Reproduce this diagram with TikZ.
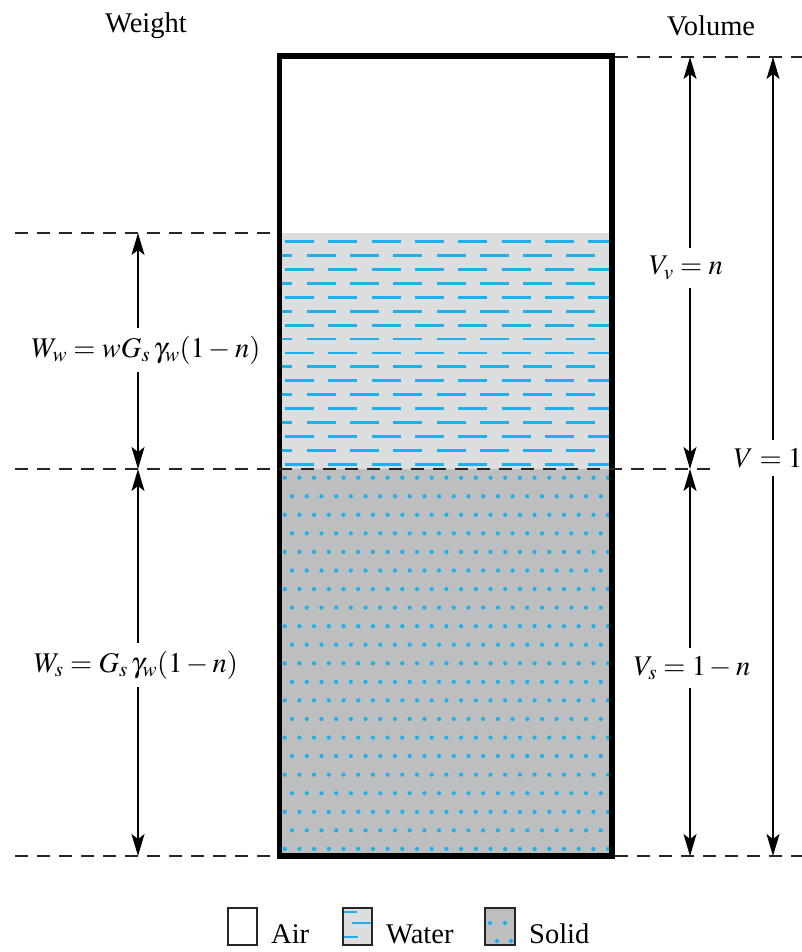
\documentclass[tikz,border=0pt]{standalone}
\usepackage{mathptmx}
\usepackage{fontspec}
\setmainfont{Liberation Serif}
\usetikzlibrary{arrows.meta}
\definecolor{cyanw}{RGB}{30,176,234}
\definecolor{waterbg}{RGB}{220,221,223}
\definecolor{solidbg}{RGB}{188,190,192}
\begin{document}
\begin{tikzpicture}[x=1pt,y=-1pt,
  font=\fontsize{28.5}{33}\selectfont,
  dim/.style={dash pattern=on 13pt off 9pt, line width=1.8pt, black!85},
  arr/.style={line width=1.5pt, {Stealth[length=22pt,width=13pt,inset=5pt]}-{Stealth[length=22pt,width=13pt,inset=5pt]}},
  lbl/.style={fill=white, inner xsep=3pt, inner ysep=8pt},
  wdash/.style={cyanw, line width=2.8pt},
  legbox/.style={line width=1.8pt, draw=black!85}]
\useasboundingbox (0,0) rectangle (802,952);

% coordinates
\coordinate (wt) at (280,233);
\coordinate (ws) at (612,469);
\coordinate (st) at (280,469);
\coordinate (sb) at (612,856);

% water fill
\fill[waterbg] (wt) rectangle (ws);
\begin{scope}
  \clip (wt) rectangle (ws);
  \foreach \i in {0,...,16} {
    \pgfmathsetmacro\yy{241.7+13.91*\i}
    \pgfmathsetmacro\xs{285-mod(\i,2)*21.65}
    \draw[wdash, dash pattern=on 29pt off 14.3pt] (\xs,\yy) -- (640,\yy);
  }
\end{scope}

% solid fill
\fill[solidbg] (st) rectangle (sb);
\begin{scope}
  \clip (st) rectangle (sb);
  \foreach \j in {0,...,20} {
    \pgfmathsetmacro\yy{477.7+18.56*\j}
    \pgfmathsetmacro\xs{284.7+mod(\j,2)*7.35}
    \foreach \k in {0,...,22} {
      \fill[cyanw] (\xs+14.7*\k,\yy) circle (2.1pt);
    }
  }
\end{scope}

% container
\draw[line width=5.5pt] (279.5,56) rectangle (612,856);

% dashed reference lines
\coordinate (dTl) at (15,233);   \coordinate (dTr) at (277,233);
\coordinate (dMl) at (15,469);   \coordinate (dMr) at (712,469);
\coordinate (dBl) at (15,856);   \coordinate (dBr) at (277,856);
\coordinate (dTopl) at (615,57); \coordinate (dTopr) at (802,57);
\coordinate (dBotl) at (615,856);\coordinate (dBotr) at (802,856);
\draw[dim] (dTl) -- (dTr);
\draw[dim] (dMl) -- (dMr);
\draw[dim] (dBl) -- (dBr);
\draw[dim] (dTopl) -- (dTopr);
\draw[dim] (dBotl) -- (dBotr);

% weight dimensions
\coordinate (a1) at (138,233); \coordinate (a2) at (138,469); \coordinate (a3) at (138,856);
\draw[arr] (a1) -- (a2);
\draw[arr] (a2) -- (a3);
\node[lbl] (Ww) at (146,350) {$W_w = wG_s\,\gamma_w(1 - n)$};
\node[lbl] (Ws) at (136,665) {$W_s = G_s\,\gamma_w(1 - n)$};

% volume dimensions
\coordinate (b1) at (690,57); \coordinate (b2) at (690,469); \coordinate (b3) at (690,856);
\coordinate (c1) at (773,57); \coordinate (c3) at (773,856);
\draw[arr] (b1) -- (b2);
\draw[arr] (b2) -- (b3);
\draw[arr] (c1) -- (c3);
\node[lbl] (Vv) at (686,268) {$V_v = n$};
\node[lbl] (Vs) at (692,668) {$V_s = 1 - n$};
\node[lbl, inner xsep=1pt] (V) at (768,458) {$V = 1$};

% headers
\node (weight) at (146,26) {Weight};
\node (volume) at (711,26) {Volume};

% legend
\draw[legbox, fill=white] (228,908) rectangle (257,945);
\node[anchor=base west, inner sep=0pt] (air) at (271,943) {Air};
\fill[waterbg] (343,908) rectangle (372,945);
\begin{scope}
  \clip (343,908) rectangle (372,945);
  \draw[wdash] (343,912) -- (357,912);
  \draw[wdash] (352,923) -- (372,923);
  \draw[wdash] (343,937) -- (358,937);
\end{scope}
\draw[legbox] (343,908) rectangle (372,945);
\node[anchor=base west, inner sep=0pt] (water) at (386,943) {Water};
\fill[solidbg] (485,908) rectangle (515,945);
\foreach \p in {(490,923),(505,923),(497,941),(511,941)} \fill[cyanw] \p circle (2.1pt);
\draw[legbox] (485,908) rectangle (515,945);
\node[anchor=base west, inner sep=0pt] (solid) at (529,943) {Solid};
\end{tikzpicture}
\end{document}
